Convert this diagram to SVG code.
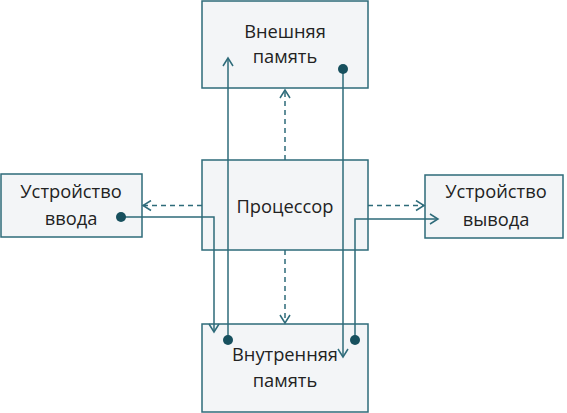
<svg xmlns="http://www.w3.org/2000/svg" width="567" height="413" viewBox="0 0 567 413">
<defs>
<style>
.box{fill:#f3f5f7;stroke:#2e6b7a;stroke-width:1.5}
.t{font-family:"Open Sans","Noto Sans",sans-serif;font-size:18.3px;fill:#222;text-anchor:middle}
.c{fill:none;stroke:#2e6b7a;stroke-width:1.5}
.d{stroke-dasharray:5 4}
.dot{fill:#17505e}
</style>
<marker id="ah" viewBox="0 0 12 12" refX="10" refY="6" markerWidth="12" markerHeight="12" markerUnits="userSpaceOnUse" orient="auto">
<path d="M2,1 L10,6 L2,11" fill="none" stroke="#2e6b7a" stroke-width="1.5"/>
</marker>
</defs>
<g id="ext-mem"><rect class="box" x="202" y="1" width="166" height="87"/><text class="t" x="285" y="38">Внешняя</text><text class="t" x="285" y="63">память</text></g>
<g id="cpu"><rect class="box" x="202" y="160" width="166" height="90"/><text class="t" x="285" y="213">Процессор</text></g>
<g id="input"><rect class="box" x="1" y="174" width="141" height="63"/><text class="t" x="71" y="198">Устройство</text><text class="t" x="71" y="225">ввода</text></g>
<g id="output"><rect class="box" x="425" y="175" width="138" height="63"/><text class="t" x="496" y="198">Устройство</text><text class="t" x="496" y="226">вывода</text></g>
<g id="int-mem"><rect class="box" x="202" y="324" width="166" height="88"/><text class="t" x="285" y="361">Внутренняя</text><text class="t" x="285" y="387">память</text></g>
<g id="connectors">
<path class="c d" d="M285,160 V90" marker-end="url(#ah)"/>
<path class="c d" d="M202,205.5 H143" marker-end="url(#ah)"/>
<path class="c d" d="M368,205.5 H424" marker-end="url(#ah)"/>
<path class="c d" d="M285,250 V323" marker-end="url(#ah)"/>
<path class="c" d="M228,340 V58" marker-end="url(#ah)"/>
<path class="c" d="M343,69 V357" marker-end="url(#ah)"/>
<path class="c" d="M121,217 H214 V332" marker-end="url(#ah)"/>
<path class="c" d="M355,340 V219 H438" marker-end="url(#ah)"/>
<circle class="dot" cx="228" cy="340" r="5"/>
<circle class="dot" cx="343" cy="69" r="5"/>
<circle class="dot" cx="121" cy="217" r="5"/>
<circle class="dot" cx="355" cy="340" r="5"/>
</g>
</svg>
